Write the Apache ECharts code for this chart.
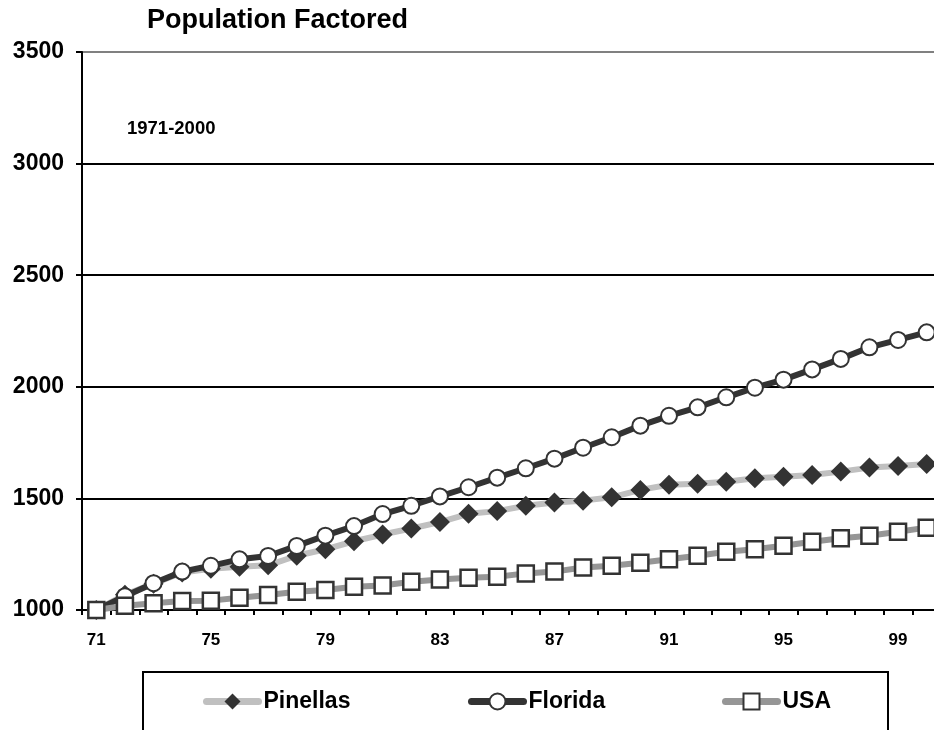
<!DOCTYPE html>
<html>
<head>
<meta charset="utf-8">
<script src="https://cdn.jsdelivr.net/npm/echarts@6/dist/echarts.min.js"></script>
<style>
html,body{margin:0;padding:0;background:#fff;overflow:hidden;width:934px;height:730px;}
#chart{width:941px;height:730px;}
</style>
</head>
<body>
<div id="chart"></div>
<script>
var years = ['71','72','73','74','75','76','77','78','79','80','81','82','83','84','85','86','87','88','89','90','91','92','93','94','95','96','97','98','99','00'];
var pinellas = [1000,1068,1118,1168,1185,1194,1200,1243,1272,1308,1338,1365,1394,1431,1443,1467,1482,1490,1505,1538,1561,1566,1575,1590,1597,1605,1620,1638,1645,1654];
var florida = [1000,1062,1120,1172,1198,1227,1242,1287,1333,1376,1430,1467,1509,1550,1593,1635,1678,1727,1774,1826,1870,1908,1953,1996,2032,2078,2125,2177,2210,2244];
var usa = [1000,1019,1030,1040,1042,1055,1067,1082,1090,1104,1110,1127,1137,1145,1149,1164,1172,1190,1198,1212,1227,1243,1261,1272,1288,1306,1321,1333,1351,1369];
var yTicks = {min: 1000, max: 3500, interval: 500};
var titleText = 'Population Factored';
var subtitleText = '1971-2000';

var FONT = '"Liberation Sans", Arial, sans-serif';
var chart = echarts.init(document.getElementById('chart'), null, {renderer: 'canvas'});

function legendOf(name, left) {
  return {
    data: [name],
    left: left,
    top: 690,
    padding: 0,
    itemWidth: 52,
    itemHeight: 20,
    itemGap: 5,
    selectedMode: false,
    lineStyle: {width: 7, cap: 'round'},
    textStyle: {fontFamily: FONT, fontWeight: 'bold', fontSize: 23, color: '#000'}
  };
}

chart.setOption({
  animation: false,
  backgroundColor: '#fff',
  title: [
    {text: titleText, left: 147, top: 7, padding: 0,
     textStyle: {fontFamily: FONT, fontWeight: 'bold', fontSize: 27, color: '#000'}},
    {text: subtitleText, left: 127, top: 119, padding: 0,
     textStyle: {fontFamily: FONT, fontWeight: 'bold', fontSize: 18.5, color: '#000'}}
  ],
  legend: [legendOf('Pinellas', 203), legendOf('Florida', 468), legendOf('USA', 722)],
  graphic: [{
    type: 'rect', silent: true, z: -1,
    shape: {x: 143, y: 672, width: 745, height: 120},
    style: {fill: 'none', stroke: '#000', lineWidth: 2}
  }],
  grid: {left: 82, top: 52, bottom: 120, right: 0, containLabel: false},
  xAxis: {
    type: 'category',
    data: years,
    boundaryGap: true,
    axisLine: {lineStyle: {color: '#000', width: 2}},
    axisTick: {show: true, interval: 0, length: 5, lineStyle: {color: '#000', width: 2}},
    axisLabel: {interval: 3, margin: 22, fontFamily: FONT, fontWeight: 'bold', fontSize: 17, color: '#000'},
    splitLine: {show: false}
  },
  yAxis: {
    type: 'value',
    min: yTicks.min, max: yTicks.max, interval: yTicks.interval,
    axisLine: {show: true, lineStyle: {color: '#000', width: 2}},
    axisTick: {show: true, length: 6, lineStyle: {color: '#000', width: 2}},
    axisLabel: {margin: 18, fontFamily: FONT, fontWeight: 'bold', fontSize: 23, color: '#000', padding: [5, 0, 0, 0],
      formatter: function (v) { return String(v); }},
    splitLine: {show: true, lineStyle: {color: ['#000', '#000', '#000', '#000', '#000', '#808080'], width: 2}}
  },
  series: [
    {
      name: 'Pinellas', type: 'line', data: pinellas,
      symbol: 'diamond', symbolSize: 20, showAllSymbol: true,
      lineStyle: {color: '#c0c0c0', width: 6},
      itemStyle: {color: '#333333', borderColor: '#333333', borderWidth: 0},
      z: 2
    },
    {
      name: 'Florida', type: 'line', data: florida,
      symbol: 'circle', symbolSize: 16, showAllSymbol: true,
      lineStyle: {color: '#333333', width: 6},
      itemStyle: {color: '#ffffff', borderColor: '#333333', borderWidth: 2},
      z: 3
    },
    {
      name: 'USA', type: 'line', data: usa,
      symbol: 'rect', symbolSize: 16, showAllSymbol: true,
      lineStyle: {color: '#969696', width: 6},
      itemStyle: {color: '#ffffff', borderColor: '#333333', borderWidth: 2.5},
      z: 4
    }
  ]
});
</script>
</body>
</html>
